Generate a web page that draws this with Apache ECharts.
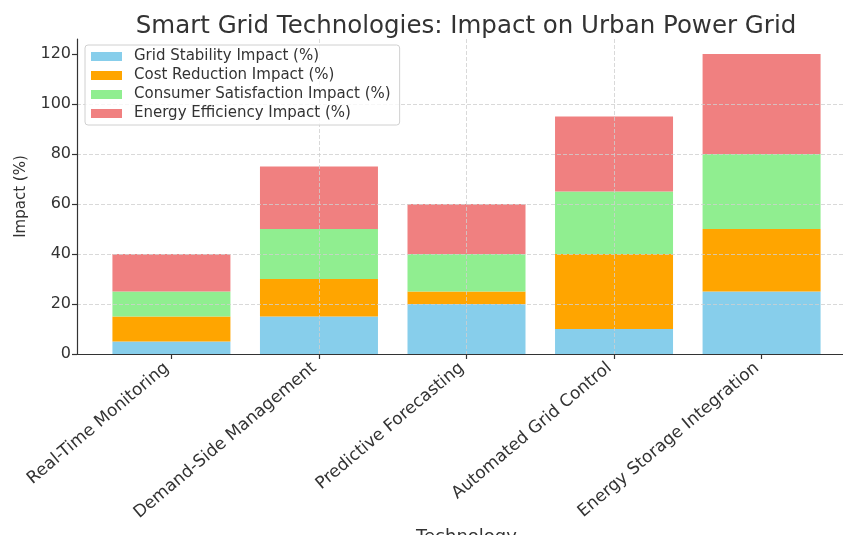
<!DOCTYPE html>
<html>
<head>
<meta charset="utf-8">
<script src="https://cdn.jsdelivr.net/npm/echarts@6/dist/echarts.min.js"></script>
<style>
html, body { margin: 0; padding: 0; background: #fff; }
#main { width: 843px; height: 535px; }
</style>
</head>
<body>
<div id="main"></div>
<script>
// 数据
var categories = ['Real-Time Monitoring', 'Demand-Side Management', 'Predictive Forecasting', 'Automated Grid Control', 'Energy Storage Integration'];
var seriesNames = ['Grid Stability Impact (%)', 'Cost Reduction Impact (%)', 'Consumer Satisfaction Impact (%)', 'Energy Efficiency Impact (%)'];
var gridStability = [5, 15, 20, 10, 25];
var costReduction = [10, 15, 5, 30, 25];
var consumerSatisfaction = [10, 20, 15, 25, 30];
var energyEfficiency = [15, 25, 20, 30, 40];
var yTicks = [0, 20, 40, 60, 80, 100, 120];
var xTicks = [0, 1, 2, 3, 4];

var colors = ['#87CEEB', '#FFA500', '#90EE90', '#F08080'];
var values = [gridStability, costReduction, consumerSatisfaction, energyEfficiency];

var gridLine = { color: '#cfcfcf', type: [4, 2], width: 0.8 };
var spine = { color: '#333', width: 1.2 };

//堆叠柱
function makeSeries() {
	var list = [];
	for (var s = 0; s < values.length; s++) {
		list.push({
			name: seriesNames[s],
			type: 'bar',
			stack: 'total',
			barWidth: 118,
			encode: { x: 1, y: 0 },
			itemStyle: { color: colors[s] },
			data: values[s].map(function(v, i) { return [v, i]; })
		});
	}
	return list;
}

var chart = echarts.init(document.getElementById('main'));
chart.setOption({
	animation: false,
	textStyle: { fontFamily: 'DejaVu Sans' },
	title: {
		text: 'Smart Grid Technologies: Impact on Urban Power Grid',
		left: 461,
		textAlign: 'center',
		top: 9,
		textStyle: { fontSize: 24.5, fontWeight: 'normal', color: '#333', fontFamily: 'DejaVu Sans' }
	},
	legend: {
		orient: 'vertical',
		left: 85,
		top: 45,
		icon: 'rect',
		itemWidth: 31,
		itemHeight: 9,
		itemGap: 4,
		padding: [4, 9, 4, 6],
		borderColor: '#d0d0d0',
		borderWidth: 1,
		borderRadius: 3,
		backgroundColor: 'rgba(255,255,255,0.8)',
		textStyle: { fontSize: 15, color: '#333', padding: [0, 0, 0, 7] },
		data: seriesNames
	},
	grid: {
		left: 77,
		right: -13,
		top: 39,
		bottom: 181,
		containLabel: false,
		outerBoundsMode: 'none'
	},
	xAxis: {
		type: 'value',
		min: -0.64,
		max: 4.64,
		z: 3,
		name: 'Technology',
		nameLocation: 'middle',
		nameGap: 168,
		nameTextStyle: { fontSize: 18, color: '#333' },
		axisLine: { show: true, onZero: false, lineStyle: spine },
		axisTick: { show: true, length: 5, customValues: xTicks, lineStyle: spine },
		axisLabel: {
			customValues: xTicks,
			rotate: 40,
			margin: 8,
			padding: [0, 6, 0, 0],
			fontSize: 17,
			color: '#333',
			formatter: function(v) { return categories[Math.round(v)] || ''; }
		},
		splitLine: { show: true, showMinLine: false, showMaxLine: false, lineStyle: gridLine }
	},
	yAxis: {
		type: 'value',
		min: 0,
		max: 126,
		interval: 20,
		z: 3,
		name: 'Impact (%)',
		nameLocation: 'middle',
		nameGap: 48,
		nameTextStyle: { fontSize: 15, color: '#333' },
		axisLine: { show: true, onZero: false, lineStyle: spine },
		axisTick: { show: true, length: 5, customValues: yTicks, lineStyle: spine },
		axisLabel: { customValues: yTicks, margin: 6, fontSize: 16, color: '#333' },
		splitLine: { show: true, showMaxLine: false, lineStyle: gridLine }
	},
	series: makeSeries()
});
</script>
</body>
</html>
